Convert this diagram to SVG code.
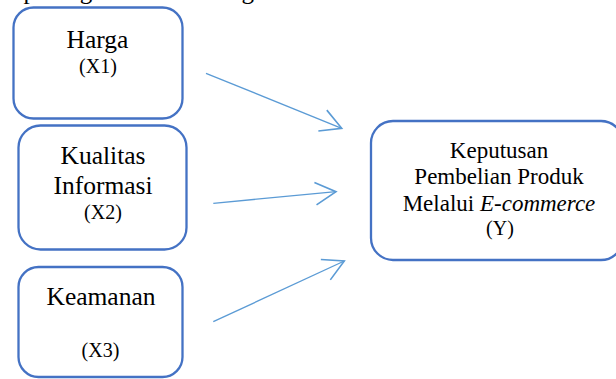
<svg xmlns="http://www.w3.org/2000/svg" width="616" height="379" viewBox="0 0 616 379">
<defs>
<style>
.box{fill:#ffffff;stroke:#4472C4;stroke-width:2.3}
.t{fill:#000000;text-anchor:middle}
.conn{stroke:#5B9BD5;stroke-width:1.3;fill:none;marker-end:url(#arr)}
</style>
<marker id="arr" markerUnits="userSpaceOnUse" markerWidth="30" markerHeight="30" refX="0" refY="0" viewBox="-20 -12 24 24" orient="auto" overflow="visible">
<path d="M-16.5,-9 L0,0 L-16.5,9" fill="none" stroke="#5B9BD5" stroke-width="1.3"/>
</marker>
</defs>
<rect width="616" height="379" fill="#ffffff"/>
<g font-family="'Liberation Serif', 'Times New Roman', serif">
<text x="0" y="-1" font-size="25" fill="#000">dapat digambarkan sebagai berikut:</text>
<g id="x1">
<rect class="box" x="13.5" y="7.5" width="169" height="111" rx="20"/>
<text class="t" font-size="25.5" x="97.5" y="47.5">Harga</text>
<text class="t" font-size="20" x="98" y="72.5">(X1)</text>
</g>
<g id="x2">
<rect class="box" x="18.5" y="125.5" width="168" height="124" rx="22"/>
<text class="t" font-size="25.5" x="103" y="164">Kualitas</text>
<text class="t" font-size="25.5" x="103" y="194">Informasi</text>
<text class="t" font-size="20" x="103" y="219">(X2)</text>
</g>
<g id="x3">
<rect class="box" x="18.5" y="267" width="164" height="110" rx="20"/>
<text class="t" font-size="25.5" x="101" y="305">Keamanan</text>
<text class="t" font-size="20" x="100.5" y="357">(X3)</text>
</g>
<g id="y">
<rect class="box" x="371" y="121" width="252" height="139" rx="22"/>
<text class="t" font-size="23" x="499" y="158">Keputusan</text>
<text class="t" font-size="23" x="499" y="184">Pembelian Produk</text>
<text class="t" font-size="23" x="499" y="210.5">Melalui <tspan font-style="italic">E-commerce</tspan></text>
<text class="t" font-size="20" x="500" y="235">(Y)</text>
</g>
</g>
<g id="connectors">
<line class="conn" x1="206" y1="73.3" x2="341.7" y2="128.3"/>
<line class="conn" x1="213.3" y1="203.3" x2="336" y2="191.7"/>
<line class="conn" x1="213.3" y1="321.7" x2="344.3" y2="261"/>
</g>
</svg>
